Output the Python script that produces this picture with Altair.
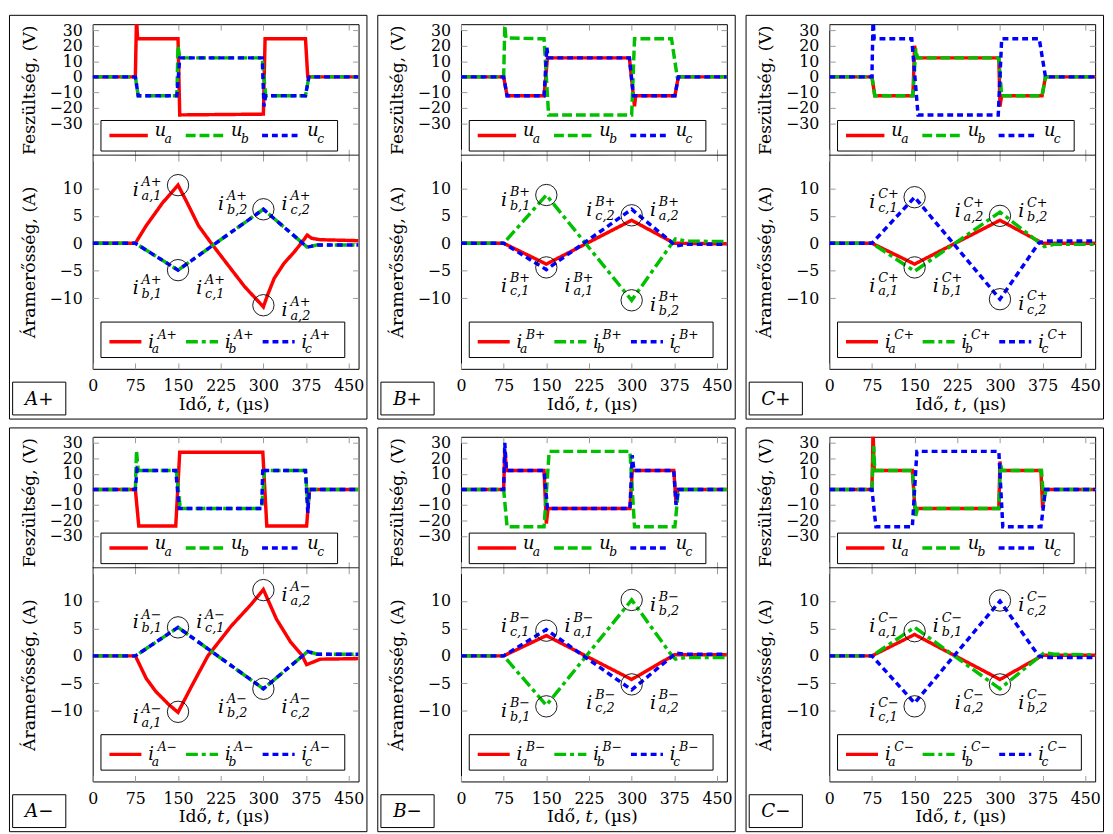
import altair as alt
import pandas as pd

# ---------------- data ----------------
# time axis in microseconds, voltages in V, currents in A
# Panel A+
ap_ua_t = [0, 75, 77, 79, 150, 153, 300, 303, 374, 378, 467]
ap_ua = [0, 0, 38, 24.5, 24.5, -24.5, -24, 24.5, 24.5, 0, 0]
ap_ub_t = [0, 75, 80, 148, 150, 153, 298, 304, 374, 380, 467]
ap_ub = [0, 0, -12.2, -12.2, 20, 12.2, 12.2, -12.2, -12.2, 0, 0]
ap_uc_t = [0, 75, 80, 148, 153, 298, 301, 304, 374, 380, 467]
ap_uc = [0, 0, -12.2, -12.2, 12.2, 12.2, -19, -12.2, -12.2, 0, 0]
ap_ia_t = [0, 75, 94, 123, 150, 166, 186, 207, 238, 267, 300, 307.5, 319, 336, 354, 368, 377, 385, 400, 467]
ap_ia = [0, 0, 3.2, 7.4, 10.6, 7.4, 3.2, 0.2, -4.0, -7.9, -11.6, -9.4, -6.4, -3.7, -1.6, 0.2, 1.5, 0.9, 0.65, 0.47]
ap_ib_t = [0, 75, 150, 300, 377, 395, 467]
ap_ib = [0, 0, -4.9, 6.2, -0.7, -0.3, -0.3]
ap_ic_t = [0, 75, 150, 300, 377, 395, 467]
ap_ic = [0, 0, -4.9, 6.2, -0.7, -0.3, -0.3]
ap_circ_t = [150, 300, 150, 300]
ap_circ_i = [10.6, 6.2, -4.9, -11.3]
ap_labels = [("a,1", 0, "L", "c"), ("b,2", 1, "L", "u"), ("c,2", 1, "R", "u"),
             ("b,1", 2, "L", "d"), ("c,1", 2, "R", "d"), ("a,2", 3, "R", "c")]

# Panel B+
bp_ua_t = [0, 75, 81, 146, 152, 296, 303, 305, 307, 376, 382, 467]
bp_ua = [0, 0, -12.2, -12.2, 12.2, 12.2, -12.2, -19, -12.2, -12.2, 0, 0]
bp_ub_t = [0, 75, 77, 79, 146, 154, 300, 305, 370, 380, 467]
bp_ub = [0, 0, 33, 25, 24.5, -24.5, -24.5, 24.5, 24.5, 0, 0]
bp_uc_t = [0, 75, 81, 146, 151, 153, 296, 303, 376, 382, 467]
bp_uc = [0, 0, -12.2, -12.2, 19, 12.2, 12.2, -12.2, -12.2, 0, 0]
bp_ia_t = [0, 75, 150, 300, 375, 467]
bp_ia = [0, 0, -3.8, 4.2, 0, -0.1]
bp_ib_t = [0, 75, 150, 300, 371, 377, 395, 467]
bp_ib = [0, 0, 8.8, -10.4, 0, 0.8, 0.4, 0.3]
bp_ic_t = [0, 75, 150, 300, 378, 395, 467]
bp_ic = [0, 0, -4.8, 6.2, -0.5, -0.2, -0.2]
bp_circ_t = [150, 150, 300, 300]
bp_circ_i = [8.8, -4.4, 5.1, -10.4]
bp_labels = [("b,1", 0, "L", "c"), ("c,1", 1, "L", "d"), ("a,1", 1, "R", "d"),
             ("c,2", 2, "L", "u"), ("a,2", 2, "R", "u"), ("b,2", 3, "R", "c")]

# Panel C+
cp_ua_t = [0, 75, 80, 147, 150, 153, 298, 300, 303, 374, 380, 467]
cp_ua = [0, 0, -12.2, -12.2, 20, 12.2, 12.2, -19, -12.2, -12.2, 0, 0]
cp_ub_t = [0, 75, 80, 147, 152, 155, 298, 303, 374, 380, 467]
cp_ub = [0, 0, -12.2, -12.2, 18, 12.2, 12.2, -12.2, -12.2, 0, 0]
cp_uc_t = [0, 75, 77, 79, 145, 156, 297, 303, 369, 380, 467]
cp_uc = [0, 0, 38, 24.5, 24.5, -24.5, -24.5, 24.5, 24.5, 0, 0]
cp_ia_t = [0, 75, 150, 300, 375, 467]
cp_ia = [0, 0, -3.8, 4.2, 0, 0]
cp_ib_t = [0, 75, 150, 300, 378, 395, 467]
cp_ib = [0, 0, -5.1, 5.7, -0.6, -0.2, -0.2]
cp_ic_t = [0, 75, 150, 300, 368, 378, 467]
cp_ic = [0, 0, 8.4, -10.2, 0, 0.4, 0.4]
cp_circ_t = [150, 150, 300, 300]
cp_circ_i = [8.4, -4.4, 5.0, -10.2]
cp_labels = [("c,1", 0, "L", "c"), ("a,1", 1, "L", "d"), ("b,1", 1, "R", "d"),
             ("a,2", 2, "L", "u"), ("b,2", 2, "R", "u"), ("c,2", 3, "R", "c")]

# Panel A-
am_ua_t = [0, 75, 81, 146, 153, 299, 306, 376, 381, 467]
am_ua = [0, 0, -23.5, -23.5, 24, 24, -23.5, -23.5, 0, 0]
am_ub_t = [0, 75, 77, 80, 147, 154, 297, 302, 374, 378, 382, 467]
am_ub = [0, 0, 25, 12.2, 12.2, -12.2, -12.2, 12.2, 12.2, -10, 0, 0]
am_uc_t = [0, 75, 78, 80, 146, 152, 297, 299, 301, 374, 378, 381, 467]
am_uc = [0, 0, 13, 12.2, 12.2, -12.2, -12.2, 14, 12.2, 12.2, -15, 0, 0]
am_ia_t = [0, 75, 94, 111, 134, 150, 175, 202.5, 244, 278.6, 300, 323, 348, 368, 376, 400, 467]
am_ia = [0, 0, -4.1, -6.5, -8.9, -10.3, -5.3, 0, 5.5, 9.4, 12.1, 6.7, 2.5, 0.1, -1.6, -0.6, -0.5]
am_ib_t = [0, 75, 150, 300, 378, 395, 467]
am_ib = [0, 0, 5.2, -6, 0.8, 0.3, 0.3]
am_ic_t = [0, 75, 150, 300, 378, 395, 467]
am_ic = [0, 0, 5.2, -6, 0.8, 0.3, 0.3]
am_circ_t = [150, 150, 300, 300]
am_circ_i = [-10.2, 5.2, 12, -6]
am_labels = [("a,1", 0, "L", "c"), ("b,1", 1, "L", "u"), ("c,1", 1, "R", "u"),
             ("a,2", 2, "R", "c"), ("b,2", 3, "L", "d"), ("c,2", 3, "R", "d")]

# Panel B-
bm_ua_t = [0, 75, 77, 80, 146, 150, 153, 297, 301, 374, 378, 381, 467]
bm_ua = [0, 0, 25, 12.2, 12.2, -22, -12.2, -12.2, 12.2, 12.2, -9, 0, 0]
bm_ub_t = [0, 75, 81, 146, 155, 297, 305, 376, 382, 467]
bm_ub = [0, 0, -24, -24, 24.5, 24.5, -24, -24, 0, 0]
bm_uc_t = [0, 75, 77, 80, 146, 152, 297, 301, 304, 374, 378, 382, 467]
bm_uc = [0, 0, 30, 12.2, 12.2, -12.2, -12.2, 22, 12.2, 12.2, -10, 0, 0]
bm_ia_t = [0, 75, 150, 300, 375, 467]
bm_ia = [0, 0, 3.7, -4.3, 0.2, 0.2]
bm_ib_t = [0, 75, 150, 300, 371, 377, 395, 467]
bm_ib = [0, 0, -9, 10.2, 0, -0.6, -0.3, -0.3]
bm_ic_t = [0, 75, 150, 300, 378, 395, 467]
bm_ic = [0, 0, 4.8, -6.2, 0.5, 0.3, 0.3]
bm_circ_t = [150, 150, 300, 300]
bm_circ_i = [4.6, -9.2, 10.2, -5.2]
bm_labels = [("c,1", 0, "L", "u"), ("a,1", 0, "R", "u"), ("b,1", 1, "L", "c"),
             ("b,2", 2, "R", "c"), ("c,2", 3, "L", "d"), ("a,2", 3, "R", "d")]

# Panel C-
cm_ua_t = [0, 75, 77, 79, 146, 151, 153, 298, 300, 302, 372, 375, 378, 467]
cm_ua = [0, 0, 38, 12.2, 12.2, -15, -12.2, -12.2, 18, 12.2, 12.2, -12, 0, 0]
cm_ub_t = [0, 75, 78, 80, 146, 152, 155, 298, 301, 303, 373, 377, 381, 467]
cm_ub = [0, 0, 28, 12.2, 12.2, -17, -12.2, -12.2, 17, 12.2, 12.2, -8, 0, 0]
cm_uc_t = [0, 75, 82, 146, 154, 298, 305, 372, 380, 467]
cm_uc = [0, 0, -24, -24, 24.5, 24.5, -24, -24, 0, 0]
cm_ia_t = [0, 75, 150, 300, 375, 467]
cm_ia = [0, 0, 3.9, -4.3, 0.1, 0.1]
cm_ib_t = [0, 75, 150, 300, 378, 395, 467]
cm_ib = [0, 0, 5.2, -6, 0.6, 0.3, 0.2]
cm_ic_t = [0, 75, 150, 300, 368, 378, 467]
cm_ic = [0, 0, -8.6, 10, 0, -0.3, -0.3]
cm_circ_t = [150, 150, 300, 300]
cm_circ_i = [4.5, -9.2, 10.1, -5.2]
cm_labels = [("a,1", 0, "L", "u"), ("b,1", 0, "R", "u"), ("c,1", 1, "L", "c"),
             ("c,2", 2, "R", "c"), ("a,2", 3, "L", "d"), ("b,2", 3, "R", "d")]

X_TICKS = [0, 75, 150, 225, 300, 375, 450]
V_TICKS = [-30, -20, -10, 0, 10, 20, 30]
I_TICKS = [-10, -5, 0, 5, 10]

PANELS = [
    ("A+", dict(ua=(ap_ua_t, ap_ua), ub=(ap_ub_t, ap_ub), uc=(ap_uc_t, ap_uc),
                ia=(ap_ia_t, ap_ia), ib=(ap_ib_t, ap_ib), ic=(ap_ic_t, ap_ic)),
     ap_circ_t, ap_circ_i, ap_labels),
    ("B+", dict(ua=(bp_ua_t, bp_ua), ub=(bp_ub_t, bp_ub), uc=(bp_uc_t, bp_uc),
                ia=(bp_ia_t, bp_ia), ib=(bp_ib_t, bp_ib), ic=(bp_ic_t, bp_ic)),
     bp_circ_t, bp_circ_i, bp_labels),
    ("C+", dict(ua=(cp_ua_t, cp_ua), ub=(cp_ub_t, cp_ub), uc=(cp_uc_t, cp_uc),
                ia=(cp_ia_t, cp_ia), ib=(cp_ib_t, cp_ib), ic=(cp_ic_t, cp_ic)),
     cp_circ_t, cp_circ_i, cp_labels),
    ("A\u2212", dict(ua=(am_ua_t, am_ua), ub=(am_ub_t, am_ub), uc=(am_uc_t, am_uc),
                     ia=(am_ia_t, am_ia), ib=(am_ib_t, am_ib), ic=(am_ic_t, am_ic)),
     am_circ_t, am_circ_i, am_labels),
    ("B\u2212", dict(ua=(bm_ua_t, bm_ua), ub=(bm_ub_t, bm_ub), uc=(bm_uc_t, bm_uc),
                     ia=(bm_ia_t, bm_ia), ib=(bm_ib_t, bm_ib), ic=(bm_ic_t, bm_ic)),
     bm_circ_t, bm_circ_i, bm_labels),
    ("C\u2212", dict(ua=(cm_ua_t, cm_ua), ub=(cm_ub_t, cm_ub), uc=(cm_uc_t, cm_uc),
                     ia=(cm_ia_t, cm_ia), ib=(cm_ib_t, cm_ib), ic=(cm_ic_t, cm_ic)),
     cm_circ_t, cm_circ_i, cm_labels),
]

# ---------------- styling / layout ----------------
FONT = "DejaVu Serif"
W, HV, HI = 270, 133, 217
H = HV + HI
T_MAX = 467.3
V_DOM = [-50.4, 33.9]
I_DOM = [-22.9, 16.07]
TPP = T_MAX / W
APP = (I_DOM[1] - I_DOM[0]) / HI
TICK = "#9a9a9a"
COL = {"a": "#ff0000", "b": "#00c000", "c": "#0000ff"}
VDASH = {"a": [1, 0], "b": [10, 4], "c": [6, 4]}
IDASH = {"a": [1, 0], "b": [12, 4, 4, 4], "c": [6, 4]}
LW = 3.5
ONE = pd.DataFrame({"k": [0]})

xs = alt.Scale(domain=[0, T_MAX], nice=False, zero=False)
vsc = alt.Scale(domain=V_DOM, range=[HV, 0], nice=False, zero=False)
isc = alt.Scale(domain=I_DOM, range=[H, HV], nice=False, zero=False)


def xaxis_main():
    return alt.Axis(orient="bottom", offset=-6, values=X_TICKS, tickSize=6, tickColor=TICK,
                    domain=False, grid=False, labelFont=FONT, labelFontSize=16, labelColor="black",
                    labelPadding=22, labelBaseline="alphabetic", labelFlush=False, labelOverlap=False,
                    format="d", title=None)


def xaxis_ticks(orient, offset):
    return alt.Axis(orient=orient, offset=offset, values=X_TICKS, tickSize=6, tickColor=TICK,
                    domain=False, grid=False, labels=False, title=None)


def yaxis_main(values, title):
    return alt.Axis(orient="left", offset=-6, values=values, tickSize=6, tickColor=TICK,
                    domain=False, grid=False, labelFont=FONT, labelFontSize=16, labelColor="black",
                    labelPadding=10.6, labelOverlap=False, labelFlush=False, format="d",
                    title=title, titleFont=FONT, titleFontSize=17.5, titleFontWeight="normal",
                    titleColor="black", titleX=-70.3, titleBaseline="middle")


def yaxis_ticks(values):
    return alt.Axis(orient="right", offset=-6, values=values, tickSize=6, tickColor=TICK,
                    domain=False, grid=False, labels=False, title=None)


def line_layer(t, v, color, dash, yscale, xaxis=None, yaxis=None):
    df = pd.DataFrame({"t": t, "v": v, "i": range(len(t))})
    return alt.Chart(df).mark_line(color=color, strokeWidth=LW, strokeDash=dash, clip=True).encode(
        x=alt.X("t:Q", scale=xs, axis=xaxis),
        y=alt.Y("v:Q", scale=yscale, axis=yaxis),
        order=alt.Order("i:Q"),
    )


def rule_px(x1, x2, y, color, dash, width=LW):
    return alt.Chart(ONE).mark_rule(color=color, strokeWidth=width, strokeDash=dash).encode(
        x=alt.value(x1), x2=alt.value(x2), y=alt.value(y))


def text_px(x, y, text, size, align="left", italic=True):
    return alt.Chart(ONE).mark_text(text=text, font=FONT, fontSize=size,
                                    fontStyle="italic" if italic else "normal",
                                    align=align, baseline="alphabetic", color="black").encode(
        x=alt.value(x), y=alt.value(y))


def rect_px(x1, x2, y1, y2, opacity):
    return alt.Chart(ONE).mark_rect(fill="white", fillOpacity=opacity, stroke="black",
                                    strokeWidth=1).encode(
        x=alt.value(x1), x2=alt.value(x2), y=alt.value(y1), y2=alt.value(y2))


def panel(name, series, circ_t, circ_i, labels):
    layers = []
    # voltage lines
    layers.append(line_layer(*series["ua"], COL["a"], VDASH["a"], vsc, xaxis_main(),
                             yaxis_main(V_TICKS, "Feszültség, (V)")))
    layers.append(line_layer(*series["ub"], COL["b"], VDASH["b"], vsc, xaxis_ticks("top", -6),
                             yaxis_ticks(V_TICKS)))
    layers.append(line_layer(*series["uc"], COL["c"], VDASH["c"], vsc,
                             xaxis_ticks("bottom", -(H - HV) - 6)))
    # current lines
    layers.append(line_layer(*series["ia"], COL["a"], IDASH["a"], isc, xaxis_ticks("top", -(HV + 6)),
                             yaxis_main(I_TICKS, "Áramerősség, (A)")))
    layers.append(line_layer(*series["ib"], COL["b"], IDASH["b"], isc, None, yaxis_ticks(I_TICKS)))
    layers.append(line_layer(*series["ic"], COL["c"], IDASH["c"], isc))
    # divider between the two plots
    layers.append(rule_px(0, W, HV, "black", [1, 0], 1))
    # circles
    cdf = pd.DataFrame({"t": circ_t, "v": circ_i})
    layers.append(alt.Chart(cdf).mark_point(shape="circle", size=470, filled=False, color="black",
                                            strokeWidth=0.9, opacity=1).encode(
        x=alt.X("t:Q", scale=xs, axis=None), y=alt.Y("v:Q", scale=isc, axis=None)))
    # annotation labels  i^{sup}_{sub}
    rows = []
    for sub, ci, side, vp in labels:
        dxp = -46 if side == "L" else 18.5
        dyp = {"u": -8.5, "c": 1.5, "d": 15}[vp]
        rows.append({"xl": circ_t[ci] + dxp * TPP, "yl": circ_i[ci] - dyp * APP,
                     "sub": sub, "sup": name})
    base = alt.Chart(pd.DataFrame(rows)).encode(
        x=alt.X("xl:Q", scale=xs, axis=None), y=alt.Y("yl:Q", scale=isc, axis=None))
    layers.append(base.mark_text(text="i", font=FONT, fontStyle="italic", fontSize=19,
                                 align="left", baseline="alphabetic", dy=9.5))
    layers.append(base.mark_text(font=FONT, fontStyle="italic", fontSize=13, align="left",
                                 baseline="alphabetic", dx=9, dy=-0.5).encode(text="sup:N"))
    layers.append(base.mark_text(font=FONT, fontStyle="italic", fontSize=13, align="left",
                                 baseline="alphabetic", dx=9, dy=13.5).encode(text="sub:N"))
    # voltage legend
    layers.append(rect_px(8.4, 248.7, 97.8, 128.8, 1))
    for k, s in enumerate("abc"):
        x0 = 17 + k * 77.5
        layers.append(rule_px(x0, x0 + 39, 113, COL[s], VDASH[s]))
        layers.append(text_px(x0 + 46, 113.5, "u", 18))
        layers.append(text_px(x0 + 56, 121, s, 12.5))
    # current legend
    layers.append(rect_px(8.4, 256, 302.5, 338.5, 1))
    for k, s in enumerate("abc"):
        x0 = 17 + k * 77.8
        layers.append(rule_px(x0, x0 + 32.5, 322.5, COL[s], IDASH[s]))
        layers.append(text_px(x0 + 39.5, 328.5, "i", 18))
        layers.append(text_px(x0 + 49, 319.5, name, 12.5))
        layers.append(text_px(x0 + 43, 334, s, 12.5))
    # x axis title  "Idő, t, (µs)"  with italic t
    layers.append(text_px(121.5, 391.5, "Idő,", 17.5, align="right", italic=False))
    layers.append(text_px(130, 391.5, "t", 17.5, align="center"))
    layers.append(text_px(134.5, 391.5, ", (µs)", 17.5, align="left", italic=False))
    # panel label box
    layers.append(rect_px(-81.3, -27.3, 363.5, 396.8, 1))
    layers.append(text_px(-54.3, 386.5, name, 18.5, align="center"))
    # outer panel frame
    layers.append(rect_px(-84.5, 278.5, -9, 401, 0))
    return (alt.layer(*layers)
            .properties(width=W, height=H)
            .resolve_scale(y="independent")
            .resolve_axis(x="independent", y="independent"))


cells = [panel(*p) for p in PANELS]
row1 = alt.hconcat(*cells[:3], spacing=8)
row2 = alt.hconcat(*cells[3:], spacing=8)
chart = (alt.vconcat(row1, row2, spacing=7)
         .properties(padding=0, background="white")
         .configure_view(stroke="black", strokeWidth=1))

chart.save("out.html", embed_options={"renderer": "svg", "actions": False})
